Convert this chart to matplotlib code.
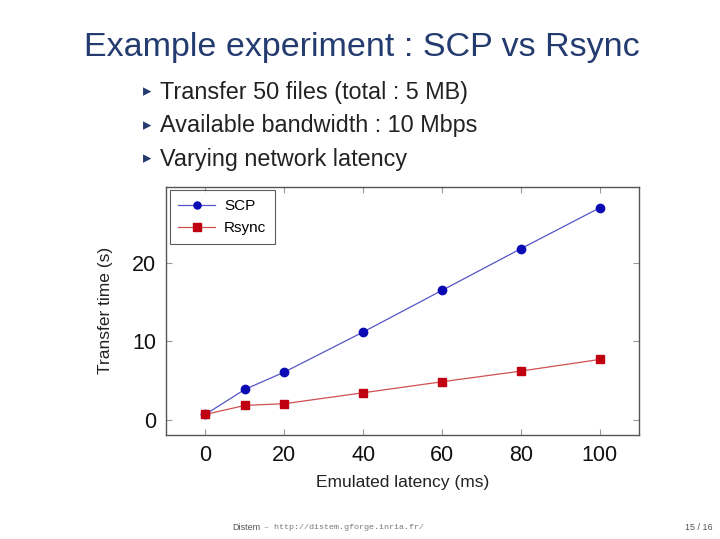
import matplotlib
matplotlib.use("Agg")
from matplotlib import pyplot as plt

plt.rcParams['font.family'] = ['Liberation Sans', 'DejaVu Sans']

latency = [0, 10, 20, 40, 60, 80, 100]
scp = [0.72, 3.9, 6.1, 11.2, 16.5, 21.8, 27.0]
rsync = [0.72, 1.86, 2.08, 3.47, 4.87, 6.23, 7.71]

title = "Example experiment : SCP vs Rsync"
bullets = ["Transfer 50 files (total : 5 MB)",
           "Available bandwidth : 10 Mbps",
           "Varying network latency"]

fig = plt.figure(figsize=(7.2, 5.39), dpi=100)
navy = "#233b6e"

fig.text(0.503, 0.912, title, ha="center", va="center", fontsize=24.5, color=navy)
for i, b in enumerate(bullets):
     y = 0.829 - i * 0.062
     fig.text(0.199, y, "\u25b8", ha="left", va="center", fontsize=12, color=navy)
     fig.text(0.222, y, b, ha="left", va="center", fontsize=16.8, color="#222222")

ax = fig.add_axes([0.2306, 0.193, 0.657, 0.4607])
ax.plot(latency, scp, color="#5555c8", lw=0.9, marker="o", ms=6,
        mfc="#0a0ab4", mec="#0a0ab4", label="SCP")
ax.plot(latency, rsync, color="#d05050", lw=0.9, marker="s", ms=6,
        mfc="#c00010", mec="#c00010", label="Rsync")

ax.set_xlim(-10, 110)
ax.set_ylim(-1.9, 29.7)
ax.set_xticks([0, 20, 40, 60, 80, 100])
ax.set_yticks([0, 10, 20])
ax.tick_params(direction="in", length=4, color="#999999", labelsize=15.5,
               top=True, right=True, labelcolor="#111111", pad=7)
for s in ax.spines.values():
     s.set_color("#555555")
     s.set_linewidth(1.0)
ax.set_xlabel("Emulated latency (ms)", fontsize=12.5, color="#222222", labelpad=7)
ax.set_ylabel("Transfer time (s)", fontsize=12.5, color="#222222", labelpad=14)

leg = ax.legend(loc="upper left", fontsize=11, frameon=True, fancybox=False,
                borderaxespad=0.25, handlelength=2.4, borderpad=0.55,
                labelspacing=0.55, markerscale=0.85, handletextpad=0.6)
leg.get_frame().set_edgecolor("#333333")
leg.get_frame().set_linewidth(0.8)

fig.text(0.323, 0.022, "Distem", ha="left", va="center", fontsize=6.5, color="#555555")
fig.text(0.367, 0.022, "\u2013 http://distem.gforge.inria.fr/", ha="left", va="center",
         fontsize=6, color="#777777", family=["Liberation Mono", "DejaVu Sans Mono"])
fig.text(0.99, 0.022, "15 / 16", ha="right", va="center", fontsize=6.5, color="#555555")

plt.savefig("out.png", dpi=100)
